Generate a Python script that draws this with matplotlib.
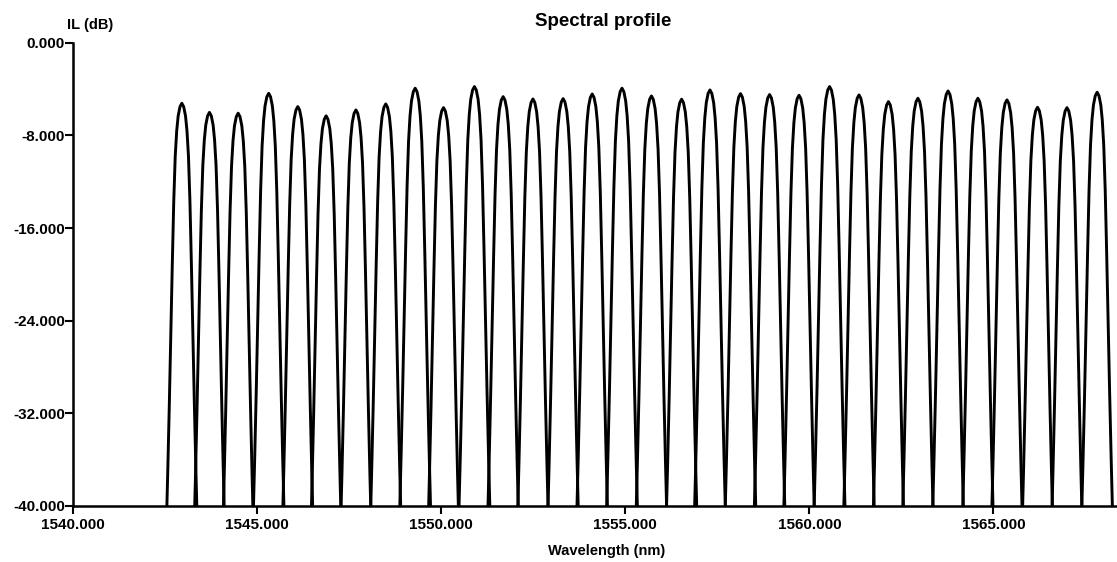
import matplotlib
matplotlib.use("Agg")
import matplotlib.pyplot as plt
import numpy as np

## Channel data (100 GHz grid, 32 channels)

# Centre wavelength of each channel [nm]
center_nm = [1542.95, 1543.70, 1544.48, 1545.31, 1546.10, 1546.87, 1547.68, 1548.49,
             1549.29, 1550.06, 1550.90, 1551.68, 1552.49, 1553.31, 1554.10, 1554.91,
             1555.71, 1556.53, 1557.30, 1558.13, 1558.92, 1559.72, 1560.55, 1561.35,
             1562.15, 1562.95, 1563.77, 1564.58, 1565.37, 1566.20, 1567.00, 1567.82]

# Insertion loss at the top of each passband [dB]
peak_il = [-5.21, -6.00, -6.07, -4.35, -5.50, -6.30, -5.79, -5.27,
           -3.91, -5.59, -3.77, -4.64, -4.84, -4.81, -4.41, -3.91,
           -4.58, -4.86, -4.06, -4.38, -4.46, -4.52, -3.77, -4.49,
           -5.07, -4.78, -4.15, -4.78, -4.92, -5.56, -5.59, -4.26]

# Passband shape: detuning from centre [nm] and loss below the peak [dB]
shape_offset = [0.00, 0.05, 0.10, 0.14, 0.18, 0.22, 0.26, 0.30, 0.34, 0.38, 0.42, 0.46]
shape_drop = [0.0, 0.3, 1.1, 2.4, 4.6, 8.5, 14.0, 20.0, 26.0, 31.5, 36.5, 41.0]

# Axis ticks
x_ticks = [1540, 1545, 1550, 1555, 1560, 1565]
y_ticks = [0, -8, -16, -24, -32, -40]

## Plot

plt.rcParams['font.family'] = ['Liberation Sans', 'DejaVu Sans']

fig = plt.figure(figsize=(11.17, 5.62), dpi=100)
ax = fig.add_axes([0.0656, 0.1005, 0.9344, 0.823])

off = np.array(shape_offset)
drop = np.array(shape_drop)
half_x = np.concatenate([-off[::-1], off[1:]])
half_y = np.concatenate([-drop[::-1], -drop[1:]])

for c, p in zip(center_nm, peak_il):
    ax.plot(c + half_x, p + half_y, color='black', linewidth=2.1,
            solid_joinstyle='round')

ax.set_xlim(1540, 1568.36)
ax.set_ylim(-40, 0)
ax.set_xticks(x_ticks)
ax.set_yticks(y_ticks)
ax.set_xticklabels([f"{v:.3f}" for v in x_ticks], fontsize=11, fontweight='bold')
ax.set_yticklabels([f"{v:.3f}" for v in y_ticks], fontsize=11, fontweight='bold')

for side in ['top', 'right']:
    ax.spines[side].set_visible(False)
for side in ['left', 'bottom']:
    ax.spines[side].set_linewidth(1.8)
    ax.spines[side].set_color('black')

ax.tick_params(axis='y', direction='out', length=6, width=1.5, pad=0)
ax.tick_params(axis='x', direction='out', length=6, width=1.5, pad=3)

# Titles and axis labels
fig.text(603 / 1117, 1 - 21 / 562, "Spectral profile", ha='center', va='center',
         fontsize=13.5, fontweight='bold')
fig.text(67 / 1117, 1 - 25 / 562, "IL (dB)", ha='left', va='center',
         fontsize=10.5, fontweight='bold')
fig.text(607 / 1117, 1 - 551 / 562, "Wavelength (nm)", ha='center', va='center',
         fontsize=10.5, fontweight='bold')

fig.savefig("out.png", dpi=100)
